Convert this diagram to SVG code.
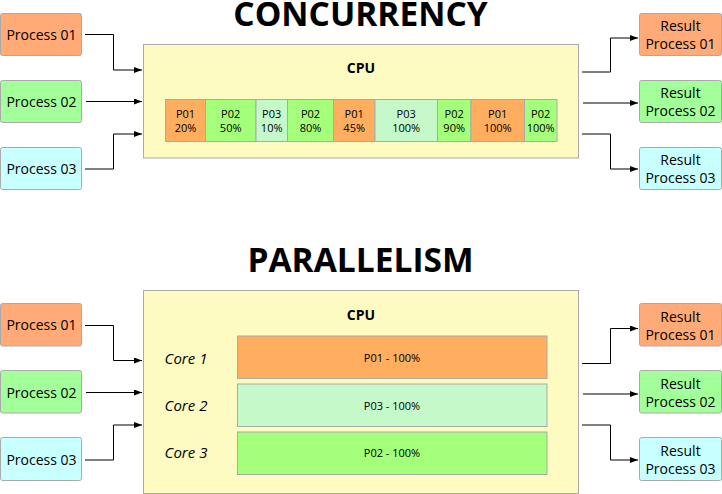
<svg xmlns="http://www.w3.org/2000/svg" width="722" height="494" viewBox="0 0 722 494">
<style>
text{font-family:"Open Sans","Noto Sans","DejaVu Sans",sans-serif;fill:#000}
.box{stroke:#aaaaaa;stroke-width:1}
.or{fill:#FFAA77}.gr{fill:#A3FF9A}.cy{fill:#C8FFFF}
.sor{fill:#FFAD5F}.sgr{fill:#A4FF7B}.slg{fill:#C6F9CA}
.cpu{fill:#FDFBC1;stroke:#aaaaaa}
.lbl{font-size:14px;text-anchor:middle}
.seg{font-size:11px;text-anchor:middle}
.title{font-size:33.5px;font-weight:bold;text-anchor:middle}
.cpulbl{font-size:14px;font-weight:bold;text-anchor:middle}
.core{font-size:15px;font-style:italic;text-anchor:middle}
.conn path{fill:none;stroke:#000;stroke-width:1;marker-end:url(#ah)}
</style>
<defs>
<marker id="ah" viewBox="0 0 8 6" refX="8" refY="3" markerWidth="8" markerHeight="6" markerUnits="userSpaceOnUse" orient="auto">
<path d="M0,0 L8,3 L0,6 z" fill="#000"/>
</marker>
</defs>
<rect width="722" height="494" fill="#fff"/>

<text class="title" x="360.5" y="25.5">CONCURRENCY</text>
<text class="title" x="360.5" y="272">PARALLELISM</text>

<!-- Concurrency -->
<g id="c-p1"><rect class="box or" x="0.5" y="13.5" width="81" height="42" rx="2"/><text class="lbl" x="41.5" y="39.5">Process 01</text></g>
<g id="c-p2"><rect class="box gr" x="0.5" y="80.5" width="81" height="42" rx="2"/><text class="lbl" x="41.5" y="106.5">Process 02</text></g>
<g id="c-p3"><rect class="box cy" x="0.5" y="147.5" width="81" height="42" rx="2"/><text class="lbl" x="41.5" y="173.5">Process 03</text></g>

<g id="c-cpu">
<rect class="cpu" x="143.5" y="44.5" width="435" height="113.5"/>
<text class="cpulbl" x="361" y="73">CPU</text>
<g id="c-segs">
<rect class="box sor" x="165.5" y="99.5" width="40" height="42"/>
<text class="seg" x="185.5" y="117.5">P01</text><text class="seg" x="185.5" y="131.5">20%</text>
<rect class="box sgr" x="205.5" y="99.5" width="50.5" height="42"/>
<text class="seg" x="230.7" y="117.5">P02</text><text class="seg" x="230.7" y="131.5">50%</text>
<rect class="box slg" x="256" y="99.5" width="31.5" height="42"/>
<text class="seg" x="271.7" y="117.5">P03</text><text class="seg" x="271.7" y="131.5">10%</text>
<rect class="box sgr" x="287.5" y="99.5" width="46" height="42"/>
<text class="seg" x="310.5" y="117.5">P02</text><text class="seg" x="310.5" y="131.5">80%</text>
<rect class="box sor" x="333.5" y="99.5" width="41.5" height="42"/>
<text class="seg" x="354.2" y="117.5">P01</text><text class="seg" x="354.2" y="131.5">45%</text>
<rect class="box slg" x="375" y="99.5" width="62.5" height="42"/>
<text class="seg" x="406.2" y="117.5">P03</text><text class="seg" x="406.2" y="131.5">100%</text>
<rect class="box sgr" x="437.5" y="99.5" width="33.5" height="42"/>
<text class="seg" x="454.2" y="117.5">P02</text><text class="seg" x="454.2" y="131.5">90%</text>
<rect class="box sor" x="471" y="99.5" width="53.5" height="42"/>
<text class="seg" x="497.7" y="117.5">P01</text><text class="seg" x="497.7" y="131.5">100%</text>
<rect class="box sgr" x="524.5" y="99.5" width="32.5" height="42"/>
<text class="seg" x="540.7" y="117.5">P02</text><text class="seg" x="540.7" y="131.5">100%</text>
</g>
</g>

<g id="c-r1"><rect class="box or" x="639.5" y="13.5" width="82" height="42" rx="2"/><text class="lbl" x="680.5" y="31">Result</text><text class="lbl" x="680.5" y="49">Process 01</text></g>
<g id="c-r2"><rect class="box gr" x="639.5" y="80.5" width="82" height="42" rx="2"/><text class="lbl" x="680.5" y="98">Result</text><text class="lbl" x="680.5" y="116">Process 02</text></g>
<g id="c-r3"><rect class="box cy" x="639.5" y="147.5" width="82" height="42" rx="2"/><text class="lbl" x="680.5" y="165">Result</text><text class="lbl" x="680.5" y="183">Process 03</text></g>

<!-- Parallelism -->
<g id="p-p1"><rect class="box or" x="0.5" y="303.5" width="81" height="42.5" rx="2"/><text class="lbl" x="41.5" y="330">Process 01</text></g>
<g id="p-p2"><rect class="box gr" x="0.5" y="370.5" width="81" height="42.5" rx="2"/><text class="lbl" x="41.5" y="397.5">Process 02</text></g>
<g id="p-p3"><rect class="box cy" x="0.5" y="437.5" width="81" height="43" rx="2"/><text class="lbl" x="41.5" y="464.5">Process 03</text></g>

<g id="p-cpu">
<rect class="cpu" x="143.5" y="290.5" width="435" height="203"/>
<text class="cpulbl" x="361" y="319.5">CPU</text>
<text class="core" x="186" y="363.5">Core 1</text>
<text class="core" x="186" y="410.5">Core 2</text>
<text class="core" x="186" y="458">Core 3</text>
<g id="p-core1"><rect class="box sor" x="237.5" y="336" width="309.5" height="42.5"/><text class="seg" x="392" y="361.5">P01 - 100%</text></g>
<g id="p-core2"><rect class="box slg" x="237.5" y="384" width="309.5" height="42.5"/><text class="seg" x="392" y="409.5">P03 - 100%</text></g>
<g id="p-core3"><rect class="box sgr" x="237.5" y="432" width="309.5" height="42.5"/><text class="seg" x="392" y="457">P02 - 100%</text></g>
</g>

<g id="p-r1"><rect class="box or" x="639.5" y="303.5" width="82" height="42.5" rx="2"/><text class="lbl" x="680.5" y="321.5">Result</text><text class="lbl" x="680.5" y="339.5">Process 01</text></g>
<g id="p-r2"><rect class="box gr" x="639.5" y="370.5" width="82" height="42.5" rx="2"/><text class="lbl" x="680.5" y="388.5">Result</text><text class="lbl" x="680.5" y="406.5">Process 02</text></g>
<g id="p-r3"><rect class="box cy" x="639.5" y="437.5" width="82" height="43" rx="2"/><text class="lbl" x="680.5" y="455.5">Result</text><text class="lbl" x="680.5" y="473.5">Process 03</text></g>

<g id="connectors" class="conn">
<path d="M85,34.5 H113.5 V70 H142"/>
<path d="M86,101.5 H142"/>
<path d="M85,169 H113.5 V134 H142"/>
<path d="M582,72 H610.5 V38 H638"/>
<path d="M583,103 H638"/>
<path d="M582,134 H610.5 V169 H638"/>
<path d="M85,325.5 H113.5 V360.5 H142"/>
<path d="M86,392.5 H142"/>
<path d="M85,460 H113.5 V425 H142"/>
<path d="M582,363.5 H610.5 V328.5 H638"/>
<path d="M583,394 H638"/>
<path d="M582,425 H610.5 V460 H638"/>
</g>
</svg>
